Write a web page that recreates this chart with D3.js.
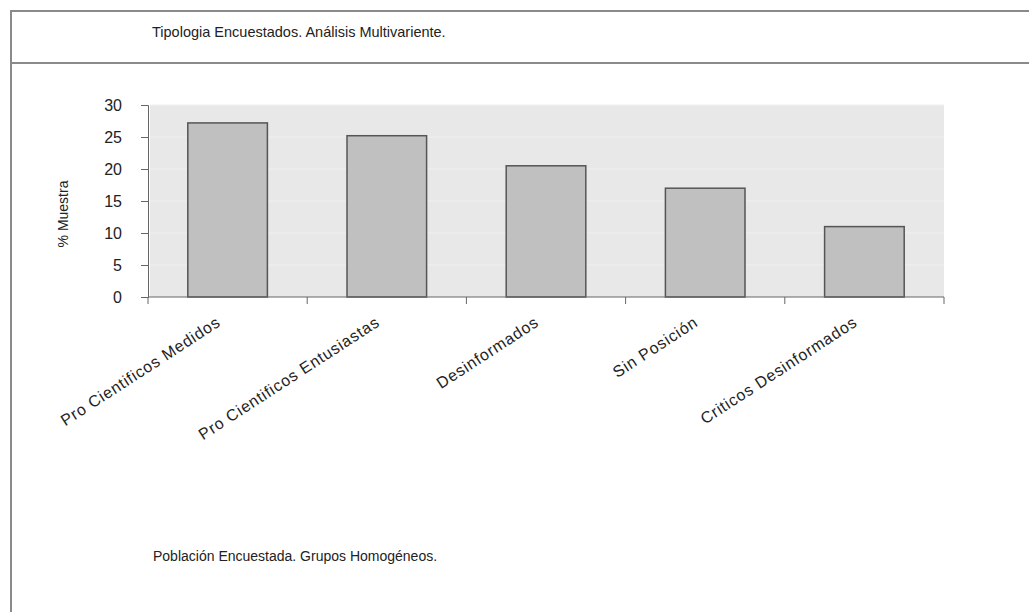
<!DOCTYPE html>
<html>
<head>
<meta charset="utf-8">
<script src="https://cdnjs.cloudflare.com/ajax/libs/d3/7.8.5/d3.min.js"></script>
<style>
  body { margin: 0; background: #fff; }
  text { font-family: "Liberation Sans", Arial, sans-serif; fill: #222; }
</style>
</head>
<body>
<script>
var categories = ["Pro Cientificos Medidos", "Pro Cientificos Entusiastas", "Desinformados", "Sin Posición", "Criticos Desinformados"];
var values = [27.2, 25.2, 20.5, 17.0, 11.0];
var yTicks = [0, 5, 10, 15, 20, 25, 30];
var titleText = "Tipologia Encuestados. Análisis Multivariente.";
var footerText = "Población Encuestada. Grupos Homogéneos.";
var yLabel = "% Muestra";

var w = 1029, h = 612;
var plotL = 148, plotR = 944, plotT = 105, plotB = 297;

var svg = d3.select("body").append("svg").attr("width", w).attr("height", h);

// outer frame
svg.append("path")
  .attr("d", "M1040,11 H11 V620")
  .attr("fill", "none").attr("stroke", "#8a8a8a").attr("stroke-width", 2);
svg.append("line")
  .attr("x1", 11).attr("x2", 1040).attr("y1", 63).attr("y2", 63)
  .attr("stroke", "#8a8a8a").attr("stroke-width", 2);

svg.append("text").attr("x", 152).attr("y", 37)
  .style("font-size", "14.5px").text(titleText);
svg.append("text").attr("x", 153).attr("y", 561)
  .style("font-size", "14px").text(footerText);

var x = d3.scaleBand().domain(categories).range([plotL, plotR])
  .paddingInner(0.5).paddingOuter(0.25);
var y = d3.scaleLinear().domain([0, 30]).range([plotB, plotT]);

// plot background
svg.append("rect").attr("x", plotL + 2).attr("y", plotT)
  .attr("width", plotR - plotL - 2).attr("height", plotB - plotT)
  .attr("fill", "#e8e8e8");

svg.append("g").selectAll("line").data(yTicks.slice(1)).enter().append("line")
  .attr("x1", plotL + 2).attr("x2", plotR)
  .attr("y1", function(d) { return y(d); }).attr("y2", function(d) { return y(d); })
  .attr("stroke", "#f0f0f0").attr("stroke-width", 1);

svg.append("g").selectAll("rect").data(values).enter().append("rect")
  .attr("x", function(d, i) { return x(categories[i]); })
  .attr("y", function(d) { return y(d); })
  .attr("width", x.bandwidth())
  .attr("height", function(d) { return y(0) - y(d); })
  .attr("fill", "#c0c0c0").attr("stroke", "#555").attr("stroke-width", 1.5);

// y axis
var yAxis = svg.append("g").attr("transform", "translate(" + plotL + ",0)")
  .call(d3.axisLeft(y).tickValues(yTicks).tickSize(7).tickPadding(19));
yAxis.selectAll("text").style("font-size", "16px").attr("fill", "#222");
yAxis.selectAll("line, path").attr("stroke", "#666");

// x axis, ticks at band edges
var step = x.step();
var edges = d3.range(categories.length + 1).map(function(i) { return plotL + i * step; });
svg.append("line").attr("x1", plotL).attr("x2", plotR).attr("y1", plotB).attr("y2", plotB)
  .attr("stroke", "#666");
svg.append("g").selectAll("line").data(edges).enter().append("line")
  .attr("x1", function(d) { return d; }).attr("x2", function(d) { return d; })
  .attr("y1", plotB).attr("y2", plotB + 7).attr("stroke", "#666");

svg.append("g").selectAll("text").data(categories).enter().append("text")
  .attr("transform", function(d) {
    return "translate(" + (x(d) + x.bandwidth() / 2 - 6) + "," + (plotB + 28) + ") rotate(-33)";
  })
  .attr("text-anchor", "end")
  .style("font-size", "16px")
  .style("letter-spacing", "0.8px")
  .text(function(d) { return d; });

svg.append("text")
  .attr("transform", "translate(68,214) rotate(-90)")
  .attr("text-anchor", "middle")
  .style("font-size", "14px")
  .text(yLabel);
</script>
</body>
</html>
